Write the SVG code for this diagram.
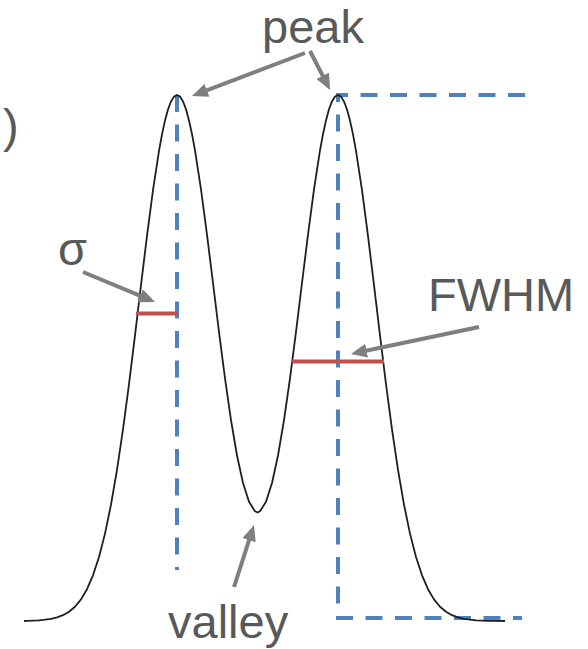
<svg xmlns="http://www.w3.org/2000/svg" width="588" height="649" viewBox="0 0 588 649">
  <style>
    .lbl { font-family: "Liberation Sans", Arial, sans-serif; font-size: 47px; fill: #595959; }
    .curve { fill: none; stroke: #1f1f1f; stroke-width: 1.8; stroke-linejoin: round; }
    .guide { fill: none; stroke: #4F81BD; stroke-width: 4; stroke-dasharray: 17 12.5; }
    .width { stroke: #C0504D; stroke-width: 4; }
    .conn { stroke: #7f7f7f; stroke-width: 4; fill: none; marker-end: url(#arrow); }
  </style>
  <defs>
    <marker id="arrow" markerUnits="userSpaceOnUse" markerWidth="16" markerHeight="14" refX="8" refY="7" orient="auto">
      <path d="M0,0 L16,7 L0,14 z" fill="#7f7f7f"/>
    </marker>
  </defs>

  <g id="guides">
    <path class="guide" d="M177,95 V570"/>
    <path class="guide" d="M525,95 H338 V618 H522"/>
  </g>

  <g id="curve">
    <polyline class="curve" points="24,621 27,620.8 33,620.6 39,620.3 45,619.7 51,618.8 57,617.4 63,615.2 69,611.7 75,606.7 81,599.4 87,589.2 93,575.3 99,557.0 105,533.6 111,504.6 117,469.8 123,429.4 129,384.1 135,335.4 141,285.2 147,235.9 153,190.1 159,150.8 162,134.4 165,120.6 168,109.5 171,101.5 174,96.6 177,95.0 180,96.6 183,101.4 186,109.3 189,120.4 192,134.2 195,150.4 201,189.4 207,234.6 213,283.0 219,331.8 225,378.3 231,420.1 237,455.5 243,483.0 249,501.8 255,511.3 257.5,512.5 260,511.3 266,501.8 272,483.0 278,455.5 284,420.1 290,378.3 296,331.8 302,283.0 308,234.6 314,189.4 320,150.4 323,134.2 326,120.4 329,109.3 332,101.4 335,96.6 338,95.0 341,96.6 344,101.5 347,109.5 350,120.6 353,134.4 356,150.8 362,190.1 368,235.9 374,285.2 380,335.4 386,384.1 392,429.4 398,469.8 404,504.6 410,533.6 416,557.0 422,575.3 428,589.2 434,599.4 440,606.7 446,611.7 452,615.2 458,617.4 464,618.8 470,619.7 476,620.3 482,620.6 488,620.8 494,620.9 505,621"/>
  </g>

  <g id="sigma-width">
    <line class="width" x1="136" y1="313.5" x2="178" y2="313.5"/>
  </g>
  <g id="fwhm-width">
    <line class="width" x1="292" y1="361.5" x2="384" y2="361.5"/>
  </g>

  <g id="connectors">
    <line class="conn" x1="83" y1="272" x2="147.6" y2="298.9"/>
    <line class="conn" x1="305" y1="53" x2="199.5" y2="93.2"/>
    <line class="conn" x1="310" y1="51" x2="326.4" y2="82.9"/>
    <line class="conn" x1="479" y1="327" x2="358.8" y2="352.3"/>
    <line class="conn" x1="234" y1="587" x2="251.5" y2="532.6"/>
  </g>

  <g id="label-peak"><text class="lbl" x="262" y="43">peak</text></g>
  <g id="label-paren"><text class="lbl" x="3" y="142">)</text></g>
  <g id="label-sigma"><text class="lbl" x="58" y="265">σ</text></g>
  <g id="label-fwhm"><text class="lbl" x="428" y="311">FWHM</text></g>
  <g id="label-valley"><text class="lbl" x="168" y="638">valley</text></g>
</svg>
